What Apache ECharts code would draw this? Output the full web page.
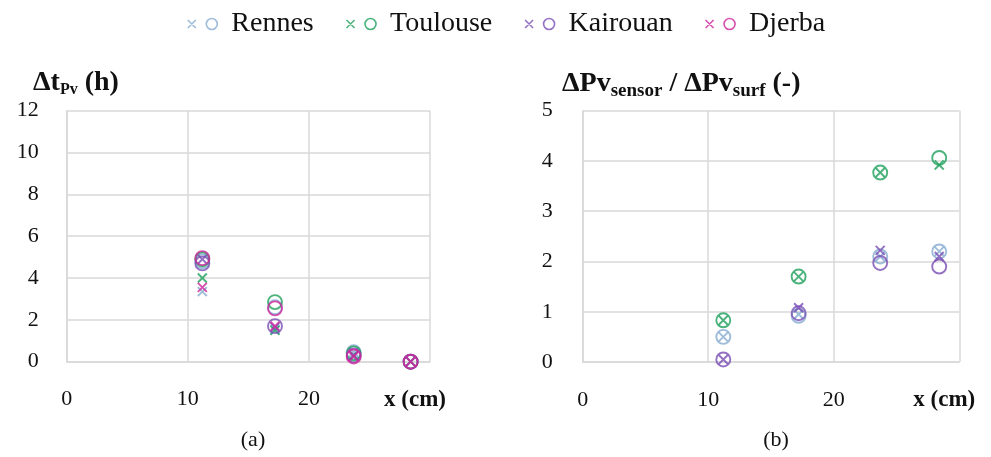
<!DOCTYPE html>
<html>
<head>
<meta charset="utf-8">
<script src="https://cdn.jsdelivr.net/npm/echarts@6/dist/echarts.min.js"></script>
<style>html,body{margin:0;padding:0;background:#fff;}#c{width:991px;height:457px;}</style>
</head>
<body>
<div id="c"></div>
<script>
// ---- data ----
const cities = ['Rennes', 'Toulouse', 'Kairouan', 'Djerba'];
const xPos = [11.2, 17.2, 23.7, 28.4];
const xTicks = [0, 10, 20];
const xAxisName = 'x (cm)';
// (a) Δt_Pv (h)
const dtCross = {
  Rennes:   [3.35, 1.55, 0.45, 0.0],
  Toulouse: [4.0, 1.5, 0.3, 0.0],
  Kairouan: [4.9, 1.65, 0.3, 0.0],
  Djerba:   [3.55, 1.7, 0.25, 0.0]
};
const dtCircle = {
  Rennes:   [4.8, 2.6, 0.45, 0.0],
  Toulouse: [4.9, 2.85, 0.4, 0.0],
  Kairouan: [4.7, 1.7, 0.3, 0.0],
  Djerba:   [4.95, 2.55, 0.25, 0.0]
};
// (b) ΔPv_sensor / ΔPv_surf (-)
const ratioCross = {
  Rennes:   [0.5, 0.95, 2.1, 2.2],
  Toulouse: [0.83, 1.7, 3.77, 3.92],
  Kairouan: [0.05, 1.08, 2.22, 2.1]
};
const ratioCircle = {
  Rennes:   [0.5, 0.92, 2.1, 2.2],
  Toulouse: [0.83, 1.7, 3.77, 4.06],
  Kairouan: [0.05, 0.97, 1.97, 1.9]
};
const colors = { Rennes: '#86abd1', Toulouse: '#1fa05c', Kairouan: '#7b4db5', Djerba: '#d1269c' };

// ---- chart ----
const FONT = '"Liberation Serif", "DejaVu Serif", serif';
const CROSS = 'path://M0,0L10,10M10,0L0,10';
const LEGEND_ICON = 'path://M0,2L8,10M8,2L0,10M29.5,6A5.5,5.5 0 1 1 18.5,6A5.5,5.5 0 1 1 29.5,6Z';

function pts(arr) { return arr.map((v, i) => [xPos[i], v]); }

const series = [];
function addSeries(crossObj, circleObj, gi) {
  cities.forEach(c => {
    if (crossObj[c]) series.push({
      name: c, type: 'scatter', xAxisIndex: gi, yAxisIndex: gi, clip: false,
      symbol: CROSS, symbolSize: 9,
      itemStyle: { color: 'rgba(0,0,0,0)', borderColor: colors[c], borderWidth: 1.9 },
      data: pts(crossObj[c])
    });
    if (circleObj[c]) series.push({
      name: c, type: 'scatter', xAxisIndex: gi, yAxisIndex: gi, clip: false,
      symbol: 'circle', symbolSize: 14,
      itemStyle: { color: 'rgba(0,0,0,0)', borderColor: colors[c], borderWidth: 1.9 },
      data: pts(circleObj[c])
    });
  });
}
addSeries(dtCross, dtCircle, 0);
addSeries(ratioCross, ratioCircle, 1);

const gridLine = { lineStyle: { color: '#d9d9d9', width: 1.5 } };
function xAxis(gi) {
  return {
    gridIndex: gi, type: 'value', min: 0, max: 30, interval: 10,
    axisLine: { show: true, lineStyle: { color: '#d9d9d9', width: 1.5 } },
    axisTick: { show: false },
    splitLine: gridLine,
    axisLabel: {
      margin: 27, color: '#111', fontFamily: FONT, fontSize: 22,
      formatter: v => (xTicks.indexOf(v) >= 0 ? String(v) : '{b|' + xAxisName + '}'),
      rich: { b: { fontFamily: FONT, fontSize: 23, fontWeight: 'bold', color: '#111', padding: [0, 30, 0, 0] } }
    }
  };
}
function yAxis(gi, max, interval, margin) {
  return {
    gridIndex: gi, type: 'value', min: 0, max: max, interval: interval,
    axisLine: { show: true, lineStyle: { color: '#d9d9d9', width: 1.5 } },
    axisTick: { show: false },
    splitLine: gridLine,
    axisLabel: { margin: margin, color: '#111', fontFamily: FONT, fontSize: 22 }
  };
}

const legendRich = { n: { fontFamily: FONT, fontSize: 28, color: '#111', padding: [0, 0, 0, 9] },
                     nr: { fontFamily: FONT, fontSize: 28, color: '#111', padding: [0, 36, 0, 9] } };

const option = {
  backgroundColor: '#fff',
  animation: false,
  textStyle: { fontFamily: FONT },
  legend: {
    left: 182, top: 5, itemGap: 32, itemWidth: 29.5, itemHeight: 11,
    data: cities.map(c => ({
      name: c, icon: LEGEND_ICON,
      itemStyle: { color: 'rgba(0,0,0,0)', borderColor: colors[c], borderWidth: 1.6 }
    })),
    formatter: n => (n === 'Rennes' ? '{nr|' + n + '}' : '{n|' + n + '}'),
    textStyle: { rich: legendRich }
  },
  title: [
    { left: 28, top: 62, text: '{a|Δt}{s|Pv}{a| (h)}',
      textStyle: { rich: {
        a: { fontFamily: FONT, fontSize: 28, fontWeight: 'bold', color: '#111' },
        s: { fontFamily: FONT, fontSize: 16, fontWeight: 'bold', color: '#111', padding: [15, 0, 0, 0] } } } },
    { left: 557, top: 62, text: '{a|ΔPv}{s|sensor}{a| / ΔPv}{s|surf}{a| (-)}',
      textStyle: { rich: {
        a: { fontFamily: FONT, fontSize: 28, fontWeight: 'bold', color: '#111' },
        s: { fontFamily: FONT, fontSize: 19, fontWeight: 'bold', color: '#111', padding: [15, 0, 0, 0] } } } },
    { left: 248, top: 424, textAlign: 'center', text: '(a)',
      textStyle: { fontFamily: FONT, fontSize: 22, fontWeight: 'normal', color: '#111' } },
    { left: 771, top: 424, textAlign: 'center', text: '(b)',
      textStyle: { fontFamily: FONT, fontSize: 22, fontWeight: 'normal', color: '#111' } }
  ],
  grid: [
    { left: 66.7, top: 110.7, width: 363.3, height: 251 },
    { left: 582.7, top: 110.7, width: 376.6, height: 251.3 }
  ],
  xAxis: [xAxis(0), xAxis(1)],
  yAxis: [yAxis(0, 12, 2, 28), yAxis(1, 5, 1, 30)],
  series: series
};

const chart = echarts.init(document.getElementById('c'), null, { renderer: 'canvas' });
chart.setOption(option);
</script>
</body>
</html>
